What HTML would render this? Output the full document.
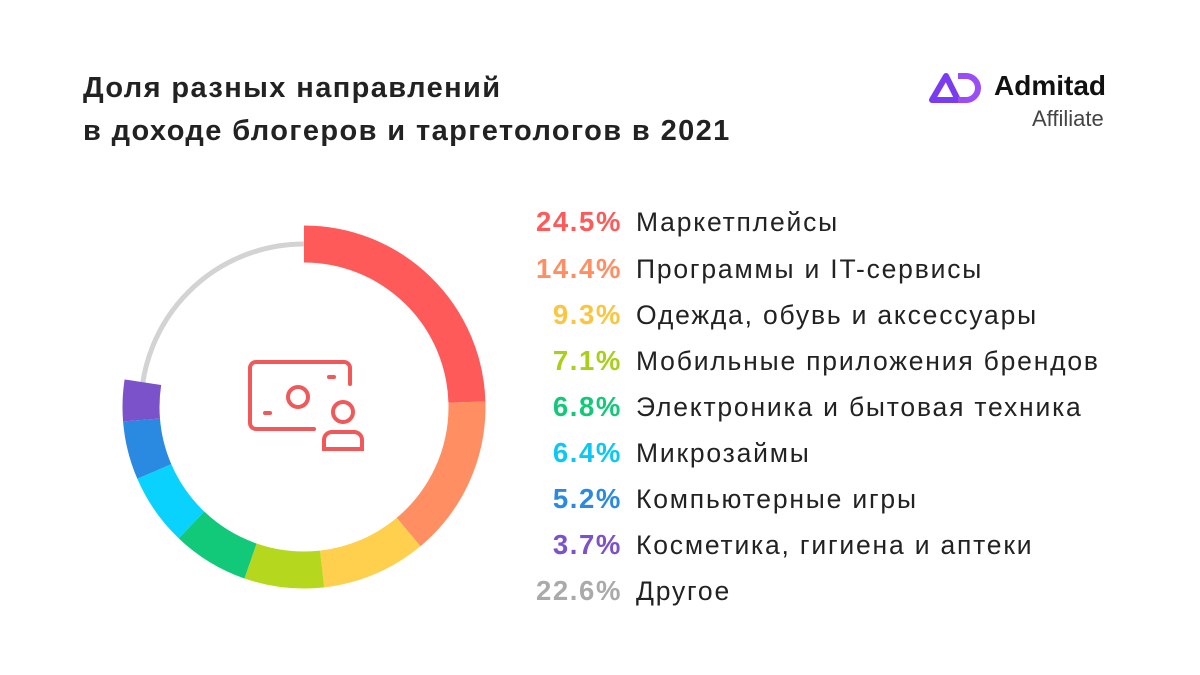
<!DOCTYPE html>
<html><head><meta charset="utf-8"><style>
body{margin:0;width:1200px;height:675px;background:#fff;font-family:"Liberation Sans","DejaVu Sans",sans-serif;position:relative;overflow:hidden;color:#1a1a1a}
.t{position:absolute;left:83px;top:67px;font-size:29px;line-height:43px;font-weight:bold;letter-spacing:1.4px;color:#222}
.row{position:absolute;left:0;width:1200px;height:46px;font-size:26.5px;line-height:46px}
.p{position:absolute;right:578px;font-weight:bold;white-space:nowrap;letter-spacing:1.6px;font-size:27.5px}
.l{position:absolute;left:636px;white-space:nowrap;color:#222;letter-spacing:1.8px}
</style></head><body>
<div class="t">Доля разных направлений<br>в доходе блогеров и таргетологов в 2021</div>
<svg style="position:absolute;left:928px;top:70px" width="60" height="34" viewBox="0 0 60 34">
<path d="M4 30 L18 6 L30 30 Z" fill="none" stroke="#7a3cf0" stroke-width="6" stroke-linejoin="round"/>
<path d="M30 6 h8 a12 12 0 0 1 0 24 h-8" fill="none" stroke="#9a4cf5" stroke-width="6"/>
</svg>
<div style="position:absolute;left:994px;top:70px;font-size:28px;font-weight:bold;color:#111">Admitad</div>
<div style="position:absolute;left:1032px;top:106px;font-size:22px;color:#444">Affiliate</div>
<svg style="position:absolute;left:0;top:0" width="600" height="675">
<g transform="rotate(-90 304 407)">
<circle cx="304" cy="407" r="163" fill="none" stroke="#d3d3d3" stroke-width="5"/>
<g fill="none" stroke-width="37">
<circle cx="304" cy="407" r="163" stroke="#ff5a5a" stroke-dasharray="250.9 2000" stroke-dashoffset="0"/>
<circle cx="304" cy="407" r="163" stroke="#ff8f63" stroke-dasharray="147.5 2000" stroke-dashoffset="-250.9"/>
<circle cx="304" cy="407" r="163" stroke="#ffd04d" stroke-dasharray="95.3 2000" stroke-dashoffset="-398.4"/>
<circle cx="304" cy="407" r="163" stroke="#b5d71e" stroke-dasharray="72.7 2000" stroke-dashoffset="-493.7"/>
<circle cx="304" cy="407" r="163" stroke="#12c97a" stroke-dasharray="69.6 2000" stroke-dashoffset="-566.4"/>
<circle cx="304" cy="407" r="163" stroke="#0ad2ff" stroke-dasharray="65.5 2000" stroke-dashoffset="-636"/>
<circle cx="304" cy="407" r="163" stroke="#2a8ae2" stroke-dasharray="53.3 2000" stroke-dashoffset="-701.5"/>
<circle cx="304" cy="407" r="163" stroke="#7b52c9" stroke-dasharray="37.9 2000" stroke-dashoffset="-754.8"/>
</g></g>
<g fill="none" stroke="#f0585a" stroke-width="4" stroke-linecap="round">
<path d="M314 429 H256 a6 6 0 0 1 -6 -6 V368 a6 6 0 0 1 6 -6 H344 a6 6 0 0 1 6 6 V384"/>
<circle cx="298" cy="397" r="10"/>
<circle cx="343" cy="412" r="10"/>
<path d="M324 449 V440 a8 8 0 0 1 8 -8 H354 a8 8 0 0 1 8 8 V449 Z"/>
<path d="M265 413 h5 M329 377 h5"/>
</g>
</svg>
<div class="row" style="top:199px"><span class="p" style="color:#ff5a5a">24.5%</span><span class="l">Маркетплейсы</span></div>
<div class="row" style="top:246px"><span class="p" style="color:#ff8f63">14.4%</span><span class="l">Программы и IT-сервисы</span></div>
<div class="row" style="top:292px"><span class="p" style="color:#fcc53f">9.3%</span><span class="l">Одежда, обувь и аксессуары</span></div>
<div class="row" style="top:338px"><span class="p" style="color:#a9cf1a">7.1%</span><span class="l">Мобильные приложения брендов</span></div>
<div class="row" style="top:384px"><span class="p" style="color:#12c97a">6.8%</span><span class="l">Электроника и бытовая техника</span></div>
<div class="row" style="top:430px"><span class="p" style="color:#0ac8f5">6.4%</span><span class="l">Микрозаймы</span></div>
<div class="row" style="top:476px"><span class="p" style="color:#2a8ae2">5.2%</span><span class="l">Компьютерные игры</span></div>
<div class="row" style="top:522px"><span class="p" style="color:#7b52c9">3.7%</span><span class="l">Косметика, гигиена и аптеки</span></div>
<div class="row" style="top:568px"><span class="p" style="color:#aaaaaa">22.6%</span><span class="l">Другое</span></div>
</body></html>
